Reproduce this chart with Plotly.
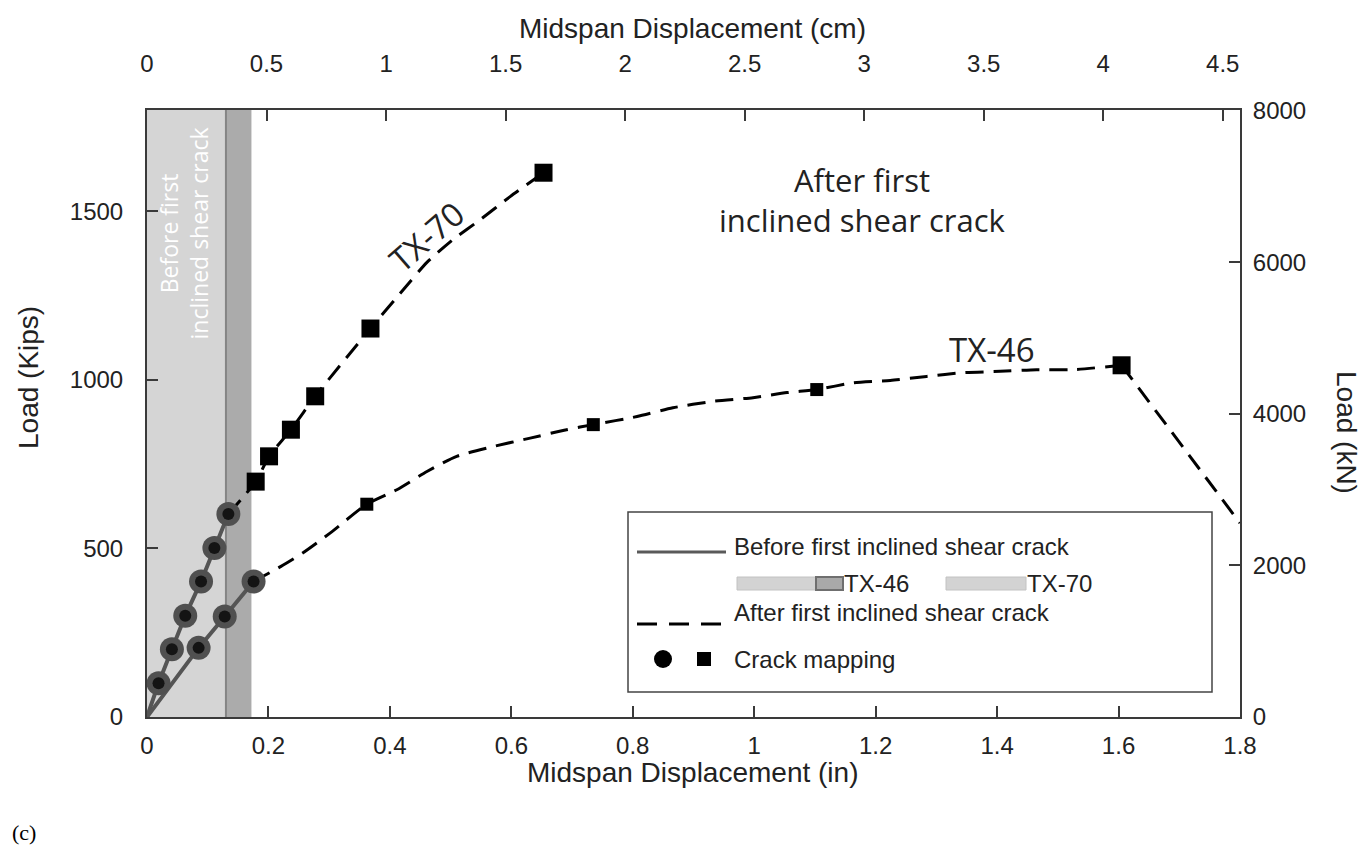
import plotly.graph_objects as go

# ---------------- data (displacement in inches, load in kips) ----------------
# TX-70: before first inclined shear crack (crack-mapping circles)
tx70_pre_disp = [0.019, 0.041, 0.063, 0.089, 0.111, 0.134]
tx70_pre_load = [100, 201, 300, 402, 501, 602]
# TX-70: after first inclined shear crack (curve vertices)
tx70_post_disp = [0.134, 0.179, 0.201, 0.237, 0.277, 0.368, 0.422, 0.461, 0.504, 0.549, 0.598, 0.653]
tx70_post_load = [602, 698, 773, 852, 951, 1152, 1267, 1348, 1416, 1475, 1543, 1614]
# TX-70 crack-mapping squares
tx70_sq_disp = [0.179, 0.201, 0.237, 0.277, 0.368, 0.653]
tx70_sq_load = [698, 773, 852, 951, 1152, 1614]

# TX-46: before first inclined shear crack (circles)
tx46_pre_disp = [0.085, 0.128, 0.1755]
tx46_pre_load = [205, 298, 402]
# TX-46: after first inclined shear crack (curve vertices; last point = post-peak drop)
tx46_post_disp = [0.1755, 0.220, 0.257, 0.302, 0.362, 0.4115, 0.461, 0.510, 0.570, 0.631, 0.691,
                  0.735, 0.807, 0.866, 0.932, 0.998, 1.054, 1.103, 1.163, 1.224, 1.284, 1.344,
                  1.405, 1.465, 1.525, 1.605, 1.8]
tx46_post_load = [402, 446, 487, 546, 631, 674, 728, 773, 802, 827, 852,
                  867, 891, 917, 936, 947, 962, 971, 991, 998, 1010, 1021,
                  1025, 1030, 1030, 1043, 575]
# TX-46 crack-mapping squares (small) and final (large)
tx46_sq_disp = [0.362, 0.735, 1.103]
tx46_sq_load = [631, 867, 971]
tx46_end_disp = [1.605]
tx46_end_load = [1043]

# displacement at first inclined shear crack (shaded regions)
tx70_crack_disp = 0.130
tx46_crack_disp = 0.172

# axis ticks
x_in_ticks = [0, 0.2, 0.4, 0.6, 0.8, 1.0, 1.2, 1.4, 1.6, 1.8]
x_in_labels = ["0", "0.2", "0.4", "0.6", "0.8", "1", "1.2", "1.4", "1.6", "1.8"]
x_cm_ticks = [0, 0.5, 1, 1.5, 2, 2.5, 3, 3.5, 4, 4.5]
x_cm_labels = ["0", "0.5", "1", "1.5", "2", "2.5", "3", "3.5", "4", "4.5"]
y_kip_ticks = [0, 500, 1000, 1500]
y_kn_ticks = [0, 2000, 4000, 6000, 8000]

IN2CM = 2.54
KIP2KN = 4.448222
X_MAX = 1.8
Y_MAX = 1800

# ---------------- figure geometry (page pixels; page has an 8px body margin) ----------------
OFF = 8
W, H = 1370 - 2 * OFF, 858 - 2 * OFF
PL, PR, PT, PB = 147, 1240, 110, 717          # plot area on the page
L, R, T, B = PL - OFF, W - (PR - OFF), PT - OFF, H - (PB - OFF)
pw, ph = PR - PL, PB - PT

def px(x):
    return (x - PL) / pw

def py(y):
    return (PB - y) / ph

SANS = "Liberation Sans, Arial, sans-serif"
MYR = "Open Sans, Noto Sans, sans-serif"
TXT = "#222222"
AX = "#3a3a3a"
DASH = "18px,10px"

fig = go.Figure()

# solid pre-crack lines from the origin
fig.add_trace(go.Scatter(x=[0] + tx70_pre_disp, y=[0] + tx70_pre_load, mode="lines",
                         line=dict(color="#555555", width=4), hoverinfo="skip"))
fig.add_trace(go.Scatter(x=[0] + tx46_pre_disp, y=[0] + tx46_pre_load, mode="lines",
                         line=dict(color="#555555", width=4), hoverinfo="skip"))
# dashed post-crack lines
fig.add_trace(go.Scatter(x=tx70_post_disp, y=tx70_post_load, mode="lines",
                         line=dict(color="black", width=3, dash=DASH, shape="spline", smoothing=0.6),
                         hoverinfo="skip"))
fig.add_trace(go.Scatter(x=tx46_post_disp[:-1], y=tx46_post_load[:-1], mode="lines",
                         line=dict(color="black", width=3, dash=DASH, shape="spline", smoothing=0.6),
                         hoverinfo="skip"))
fig.add_trace(go.Scatter(x=tx46_post_disp[-2:], y=tx46_post_load[-2:], mode="lines",
                         line=dict(color="black", width=3, dash=DASH), hoverinfo="skip"))
# circles (ring + core)
circ_x = tx70_pre_disp + tx46_pre_disp
circ_y = tx70_pre_load + tx46_pre_load
fig.add_trace(go.Scatter(x=circ_x, y=circ_y, mode="markers",
                         marker=dict(symbol="circle", size=24, color="#505050"), hoverinfo="skip"))
fig.add_trace(go.Scatter(x=circ_x, y=circ_y, mode="markers",
                         marker=dict(symbol="circle", size=12, color="#141414"), hoverinfo="skip"))
# squares
fig.add_trace(go.Scatter(x=tx70_sq_disp, y=tx70_sq_load, mode="markers",
                         marker=dict(symbol="square", size=18, color="black"), hoverinfo="skip"))
fig.add_trace(go.Scatter(x=tx46_sq_disp, y=tx46_sq_load, mode="markers",
                         marker=dict(symbol="square", size=13, color="black"), hoverinfo="skip"))
fig.add_trace(go.Scatter(x=tx46_end_disp, y=tx46_end_load, mode="markers",
                         marker=dict(symbol="square", size=18, color="black"), hoverinfo="skip"))
# secondary axes (cm / kN) carrier trace
fig.add_trace(go.Scatter(x=[d * IN2CM for d in tx46_end_disp], y=[v * KIP2KN for v in tx46_end_load],
                         xaxis="x2", yaxis="y2", mode="markers",
                         marker=dict(size=1, opacity=0), hoverinfo="skip"))

shapes = []
# shaded regions
shapes.append(dict(type="rect", xref="x", yref="y", x0=0, x1=tx70_crack_disp, y0=0, y1=Y_MAX,
                   fillcolor="#d5d5d5", line=dict(width=0), layer="below"))
shapes.append(dict(type="rect", xref="x", yref="y", x0=tx70_crack_disp, x1=tx46_crack_disp, y0=0, y1=Y_MAX,
                   fillcolor="#ababab", line=dict(width=0), layer="below"))
shapes.append(dict(type="line", xref="x", yref="y", x0=tx70_crack_disp, x1=tx70_crack_disp, y0=0, y1=Y_MAX,
                   line=dict(color="#858585", width=2), layer="below"))

# legend box
shapes.append(dict(type="rect", xref="paper", yref="paper", x0=px(628), x1=px(1212), y0=py(692), y1=py(512),
                   fillcolor="white", line=dict(color="#444444", width=1.5)))
shapes.append(dict(type="line", xref="paper", yref="paper", x0=px(637), x1=px(726), y0=py(552), y1=py(552),
                   line=dict(color="#5a5a5a", width=3)))
shapes.append(dict(type="rect", xref="paper", yref="paper", x0=px(737), x1=px(816), y0=py(590), y1=py(577),
                   fillcolor="#d3d3d3", line=dict(color="#c2c2c2", width=1)))
shapes.append(dict(type="rect", xref="paper", yref="paper", x0=px(816), x1=px(843), y0=py(590), y1=py(577),
                   fillcolor="#a9a9a9", line=dict(color="#6f6f6f", width=2)))
shapes.append(dict(type="rect", xref="paper", yref="paper", x0=px(946), x1=px(1026), y0=py(590), y1=py(577),
                   fillcolor="#d3d3d3", line=dict(color="#c2c2c2", width=1)))
shapes.append(dict(type="line", xref="paper", yref="paper", x0=px(637), x1=px(726), y0=py(624), y1=py(624),
                   line=dict(color="black", width=3, dash="20px,12px")))
shapes.append(dict(type="circle", xref="paper", yref="paper", x0=px(654), x1=px(672), y0=py(668), y1=py(650),
                   fillcolor="black", line=dict(width=0)))
shapes.append(dict(type="rect", xref="paper", yref="paper", x0=px(697), x1=px(711), y0=py(666), y1=py(652),
                   fillcolor="black", line=dict(width=0)))

ann = []
def label(text, x, y, size, xanchor="left", family=SANS, color=TXT, angle=0, xref="paper", yref="paper"):
    ann.append(dict(text=text, x=x, y=y, xref=xref, yref=yref, showarrow=False, xanchor=xanchor,
                    yanchor="middle", textangle=angle, font=dict(size=size, family=family, color=color)))

# legend texts
label("Before first inclined shear crack", px(732), py(546), 24)
label("TX-46", px(842), py(583), 24)
label("TX-70", px(1025), py(583), 24)
label("After first inclined shear crack", px(732), py(612), 24)
label("Crack mapping", px(732), py(659), 24)

# in-plot annotations
label("Before first<br>inclined shear crack", 0.061, 1434, 23, xanchor="center", family=MYR,
      color="white", angle=-90, xref="x", yref="y")
label("After first", px(862), py(180), 31, xanchor="center", family=MYR)
label("inclined shear crack", px(862), py(220), 31, xanchor="center", family=MYR)
label("TX-70", 0.4606, 1424, 33, xanchor="center", family=MYR, angle=-41, xref="x", yref="y")
label("TX-46", 1.392, 1090, 33, xanchor="center", family=MYR, xref="x", yref="y")

# axis titles
label("Midspan Displacement (in)", px(692), py(772), 28, xanchor="center")
label("Midspan Displacement (cm)", px(692), py(28), 28, xanchor="center")
label("Load (Kips)", px(28), py(378), 28, xanchor="center", angle=-90)
label("Load (kN)", px(1347), py(432), 28, xanchor="center", angle=90)
label("(c)", px(10), py(832), 22, family="Liberation Serif, Times New Roman, serif", color="black")

axis_common = dict(showgrid=False, zeroline=False, showline=True, linecolor=AX, linewidth=2,
                   ticks="inside", ticklen=11, tickwidth=1.5, tickcolor=AX, automargin=False,
                   tickfont=dict(size=24, family=SANS, color=TXT))

fig.update_layout(
    width=W, height=H,
    margin=dict(l=L, r=R, t=T, b=B, autoexpand=False),
    paper_bgcolor="white", plot_bgcolor="white",
    showlegend=False,
    shapes=shapes, annotations=ann,
    xaxis=dict(range=[0, X_MAX], tickvals=x_in_ticks, ticktext=x_in_labels,
               ticklabelstandoff=6, **axis_common),
    xaxis2=dict(range=[0, X_MAX * IN2CM], tickvals=x_cm_ticks, ticktext=x_cm_labels,
                overlaying="x", side="top", anchor="y", ticklabelstandoff=26, **axis_common),
    yaxis=dict(range=[0, Y_MAX], tickvals=y_kip_ticks, ticktext=[str(v) for v in y_kip_ticks],
               ticklabelstandoff=17, **axis_common),
    yaxis2=dict(range=[0, Y_MAX * KIP2KN], tickvals=y_kn_ticks, ticktext=[str(v) for v in y_kn_ticks],
                overlaying="y", side="right", anchor="x", ticklabelstandoff=6, **axis_common),
)

fig.write_html("out.html")
